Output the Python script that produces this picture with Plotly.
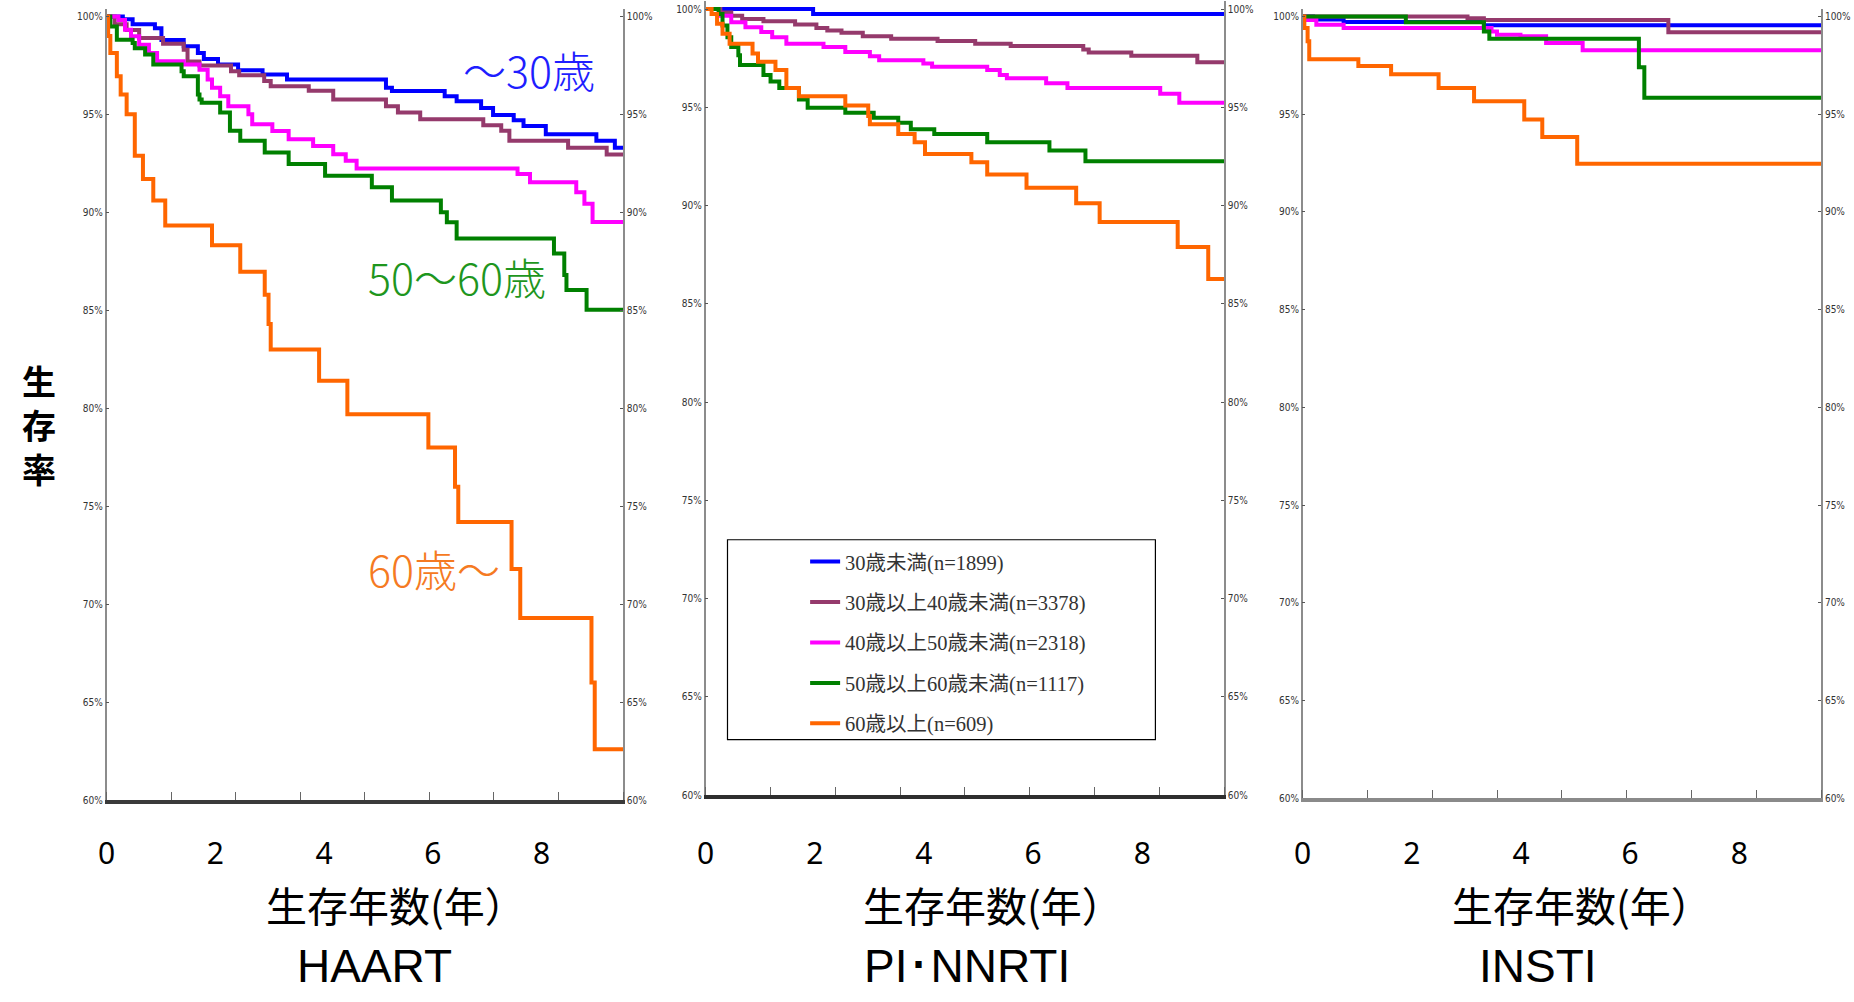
import plotly.graph_objects as go

# ---------------- data ----------------
categories = ["30歳未満(n=1899)", "30歳以上40歳未満(n=3378)", "40歳以上50歳未満(n=2318)",
              "50歳以上60歳未満(n=1117)", "60歳以上(n=609)"]
line_colors = ["#0000FF", "#953A6C", "#FF00FF", "#008000", "#FF6600"]
panel_names = ["HAART", "PI･NNRTI", "INSTI"]
x_title = "生存年数(年）"
y_title = "生<br>存<br>率"
x_ticks = [0, 2, 4, 6, 8]
y_ticks = [60, 65, 70, 75, 80, 85, 90, 95, 100]
y_tick_text = ["60%", "65%", "70%", "75%", "80%", "85%", "90%", "95%", "100%"]
x_max = 9.5
group_labels = ["〜30歳", "50〜60歳", "60歳〜"]

# HAART panel
haart_t_u30 = [0, 0.30, 0.48, 0.89, 1.01, 1.42, 1.68, 1.79, 2.05, 2.42, 2.87, 3.32, 5.14, 5.25, 6.22, 6.44, 6.89, 7.11, 7.49, 7.67, 8.08, 9.01, 9.35, 9.5]
haart_s_u30 = [100, 99.85, 99.6, 99.4, 98.8, 98.47, 98.13, 97.83, 97.54, 97.25, 97.03, 96.78, 96.36, 96.19, 95.93, 95.67, 95.33, 94.97, 94.7, 94.4, 93.99, 93.65, 93.3, 93.3]
haart_t_30s = [0, 0.15, 0.37, 0.60, 1.04, 1.42, 1.49, 1.71, 2.29, 2.44, 2.90, 3.02, 3.72, 4.17, 5.14, 5.36, 5.77, 6.93, 7.26, 7.41, 8.49, 9.20, 9.5]
haart_s_30s = [100, 99.6, 99.3, 98.9, 98.6, 98.3, 97.7, 97.5, 97.2, 97.0, 96.7, 96.43, 96.2, 95.76, 95.42, 95.1, 94.75, 94.45, 94.16, 93.65, 93.3, 92.95, 92.95]
haart_t_40s = [0, 0.15, 0.22, 0.34, 0.45, 0.60, 0.78, 0.93, 1.42, 1.71, 1.86, 1.94, 2.09, 2.24, 2.61, 2.68, 3.05, 3.35, 3.80, 4.17, 4.40, 4.60, 7.56, 7.79, 8.64, 8.79, 8.94, 9.5]
haart_s_40s = [100, 100, 99.82, 99.32, 98.98, 98.55, 98.13, 97.71, 97.54, 97.28, 96.78, 96.36, 95.93, 95.42, 95.0, 94.49, 94.15, 93.73, 93.39, 92.97, 92.63, 92.24, 91.96, 91.54, 91.03, 90.44, 89.51, 89.51]
haart_t_50s = [0, 0.07, 0.19, 0.48, 0.52, 0.71, 0.86, 1.38, 1.42, 1.68, 1.71, 1.75, 2.09, 2.27, 2.46, 2.91, 3.35, 4.02, 4.88, 5.25, 6.15, 6.26, 6.44, 8.23, 8.42, 8.46, 8.83, 9.5]
haart_s_50s = [100, 99.48, 98.81, 98.64, 98.38, 98.05, 97.54, 97.2, 96.95, 96.02, 95.76, 95.59, 95.09, 94.16, 93.65, 93.06, 92.47, 91.87, 91.28, 90.6, 90.01, 89.5, 88.66, 87.9, 86.8, 86.04, 85.03, 85.03]
haart_t_60p = [0, 0.03, 0.07, 0.19, 0.26, 0.37, 0.52, 0.67, 0.86, 1.08, 1.94, 2.46, 2.91, 2.98, 3.02, 3.91, 4.43, 5.92, 6.41, 6.47, 7.45, 7.61, 8.92, 8.98, 9.5]
haart_s_60p = [100, 99.0, 98.13, 96.95, 96.02, 95.0, 92.89, 91.7, 90.6, 89.33, 88.32, 86.97, 85.8, 84.3, 83.0, 81.4, 79.7, 78.0, 76.0, 74.2, 71.8, 69.3, 66.0, 62.6, 62.6]

# PI・NNRTI panel
pinn_t_u30 = [0, 1.97, 9.5]
pinn_s_u30 = [100, 99.75, 99.75]
pinn_t_30s = [0, 0.27, 0.47, 0.67, 1.06, 1.64, 2.03, 2.23, 2.49, 2.88, 3.40, 4.25, 4.94, 5.59, 6.92, 7.02, 7.80, 9.01, 9.5]
pinn_s_30s = [100, 99.83, 99.66, 99.5, 99.38, 99.21, 99.04, 98.91, 98.79, 98.62, 98.49, 98.37, 98.24, 98.12, 97.94, 97.79, 97.62, 97.29, 97.29]
pinn_t_40s = [0, 0.24, 0.47, 0.73, 1.02, 1.22, 1.48, 2.16, 2.56, 3.01, 3.18, 3.99, 4.15, 5.16, 5.39, 5.52, 6.24, 6.63, 8.33, 8.68, 9.5]
pinn_s_40s = [100, 99.66, 99.33, 99.08, 98.83, 98.57, 98.24, 98.07, 97.82, 97.6, 97.4, 97.23, 97.07, 96.9, 96.65, 96.48, 96.23, 95.98, 95.69, 95.23, 95.23]
pinn_t_50s = [0, 0.24, 0.31, 0.40, 0.47, 0.60, 0.63, 1.06, 1.19, 1.35, 1.71, 1.87, 2.56, 3.08, 3.53, 3.76, 4.19, 5.16, 6.30, 6.96, 9.5]
pinn_s_50s = [100, 99.75, 99.16, 98.57, 98.07, 97.65, 97.15, 96.65, 96.31, 95.98, 95.4, 94.98, 94.72, 94.47, 94.22, 93.89, 93.64, 93.22, 92.8, 92.25, 92.25]
pinn_t_60p = [0, 0.11, 0.21, 0.31, 0.44, 0.86, 0.96, 1.28, 1.48, 1.71, 2.56, 2.98, 3.01, 3.53, 3.83, 4.02, 4.87, 5.16, 5.88, 6.79, 7.22, 8.65, 9.21, 9.5]
pinn_s_60p = [100, 99.75, 99.25, 98.74, 98.24, 97.74, 97.32, 96.9, 95.98, 95.56, 95.09, 94.56, 94.14, 93.64, 93.22, 92.63, 92.21, 91.58, 90.91, 90.12, 89.17, 87.89, 86.27, 86.27]

# INSTI panel
insti_t_u30 = [0, 0.19, 0.75, 3.32, 9.5]
insti_s_u30 = [100, 99.85, 99.72, 99.55, 99.55]
insti_t_30s = [0, 3.02, 3.32, 6.70, 9.5]
insti_s_30s = [100, 99.92, 99.83, 99.2, 99.2]
insti_t_40s = [0, 0.05, 0.25, 0.75, 3.46, 3.56, 3.99, 4.46, 5.13, 9.5]
insti_s_40s = [100, 99.83, 99.58, 99.41, 99.24, 99.07, 98.99, 98.65, 98.27, 98.27]
insti_t_50s = [0, 1.89, 3.32, 3.42, 6.16, 6.26, 9.5]
insti_s_50s = [100, 99.71, 99.24, 98.87, 97.4, 95.84, 95.84]
insti_t_60p = [0, 0.03, 0.09, 0.12, 1.02, 1.62, 2.49, 3.14, 4.06, 4.39, 5.03, 9.5]
insti_s_60p = [100, 99.41, 98.74, 97.81, 97.47, 97.05, 96.35, 95.67, 94.73, 93.84, 92.47, 92.47]

panels = [
    [(haart_t_u30, haart_s_u30), (haart_t_30s, haart_s_30s), (haart_t_40s, haart_s_40s),
     (haart_t_50s, haart_s_50s), (haart_t_60p, haart_s_60p)],
    [(pinn_t_u30, pinn_s_u30), (pinn_t_30s, pinn_s_30s), (pinn_t_40s, pinn_s_40s),
     (pinn_t_50s, pinn_s_50s), (pinn_t_60p, pinn_s_60p)],
    [(insti_t_u30, insti_s_u30), (insti_t_30s, insti_s_30s), (insti_t_40s, insti_s_40s),
     (insti_t_50s, insti_s_50s), (insti_t_60p, insti_s_60p)],
]

# ---------------- layout geometry (pixels of the 1854x1002 page) ----------------
W, H = 1854, 1002
px_x = [(98, 617), (700, 1221), (1300, 1821)]
px_y = [(805, 8.6), (800, 1.2), (803, 8.8)]      # (bottom, top)
bottom_line_colors = ["#3a3a3a", "#2e2e2e", "#8a8a8a"]
xlabel_standoff = [24, 29, 26]
title_cx = [367, 963, 1536]
xtitle_cx = [389, 989, 1581]

fig = go.Figure()
for i, panel in enumerate(panels):
    xa = "x" if i == 0 else f"x{i+1}"
    ya = "y" if i == 0 else f"y{i+1}"
    for j, (t, s) in enumerate(panel):
        fig.add_trace(go.Scatter(
            x=t, y=s, mode="lines", name=categories[j], legendgroup=categories[j],
            showlegend=(i == 0), line=dict(shape="hv", color=line_colors[j], width=4),
            xaxis=xa, yaxis=ya, hoverinfo="skip"))
    # invisible copy bound to the right-hand percentage axis so that axis is drawn
    t0, s0 = panel[0]
    fig.add_trace(go.Scatter(x=t0, y=s0, mode="lines", line=dict(width=0, shape="hv"),
                             opacity=0, showlegend=False, hoverinfo="skip",
                             xaxis=xa, yaxis=f"y{i+4}"))

layout = dict(
    width=W, height=H, margin=dict(l=0, r=0, t=0, b=0),
    paper_bgcolor="white", plot_bgcolor="white",
    showlegend=True,
    legend=dict(x=800 / W, y=1 - 545 / H, xanchor="left", yanchor="top",
                bgcolor="rgba(0,0,0,0)", borderwidth=0,
                font=dict(family="Liberation Serif, Noto Sans CJK JP, serif", size=20.5, color="#333"),
                traceorder="grouped", tracegroupgap=10.8),
)

ytick_font = dict(family="Liberation Sans Narrow, DejaVu Sans Condensed, sans-serif", size=10, color="#333")
for i in range(3):
    sfx = "" if i == 0 else str(i + 1)
    xd = [px_x[i][0] / W, px_x[i][1] / W]
    yd = [1 - px_y[i][0] / H, 1 - px_y[i][1] / H]
    layout["xaxis" + sfx] = dict(
        domain=xd, anchor="y" + sfx, range=[0, x_max], tickvals=x_ticks, ticks="",
        showline=True, linecolor=bottom_line_colors[i], linewidth=4,
        showgrid=False, zeroline=False, fixedrange=True,
        tickfont=dict(family="Noto Sans, sans-serif", size=30, color="black"),
        ticklabelstandoff=xlabel_standoff[i],
        minor=dict(tickmode="linear", tick0=0, dtick=x_max / 8, ticks="inside",
                   ticklen=8, tickwidth=1, tickcolor="#666", showgrid=False))
    common_y = dict(range=[60, 100.4], tickmode="array", tickvals=y_ticks, ticktext=y_tick_text,
                    ticks="inside", ticklen=3, tickwidth=1, tickcolor="#555", showline=True,
                    linecolor="#8c8c8c", linewidth=1.5, showgrid=False, zeroline=False,
                    fixedrange=True, tickfont=ytick_font)
    layout["yaxis" + sfx] = dict(domain=yd, anchor="x" + sfx, side="left", **common_y)
    layout[f"yaxis{i+4}"] = dict(overlaying="y" + sfx, anchor="x" + sfx, side="right", **common_y)

annotations = []
cjk = "Noto Sans CJK JP, sans-serif"
annotations.append(dict(text=y_title, x=30 / W, y=1 - 427 / H, xref="paper", yref="paper",
                        showarrow=False, xanchor="center", yanchor="middle",
                        font=dict(family=cjk, size=34, color="black", weight="bold")))
for i in range(3):
    annotations.append(dict(text=x_title, x=xtitle_cx[i] / W, y=1 - 909 / H, xref="paper", yref="paper",
                            showarrow=False, xanchor="center", yanchor="middle",
                            font=dict(family=cjk, size=41, color="black")))
    annotations.append(dict(text=panel_names[i], x=title_cx[i] / W, y=1 - 972 / H, xref="paper", yref="paper",
                            showarrow=False, xanchor="center", yanchor="middle",
                            font=dict(family="Liberation Sans, Arial, sans-serif", size=46, color="black")))
lab_pos = [(523, 69), (450, 278), (427, 571)]
lab_col = ["#1E1EFF", "#1E961E", "#F57A22"]
for k, txt in enumerate(group_labels):
    annotations.append(dict(text=txt, x=lab_pos[k][0] / W, y=1 - lab_pos[k][1] / H, xref="paper", yref="paper",
                            showarrow=False, xanchor="center", yanchor="middle",
                            font=dict(family=cjk, size=43, color=lab_col[k], weight=300)))
layout["annotations"] = annotations
layout["shapes"] = [dict(type="rect", xref="paper", yref="paper", x0=722 / W, x1=1152 / W,
                         y0=1 - 744 / H, y1=1 - 543 / H, line=dict(color="black", width=1.2),
                         fillcolor="rgba(0,0,0,0)", layer="above")]

fig.update_layout(**layout)
fig.write_html("out.html")
